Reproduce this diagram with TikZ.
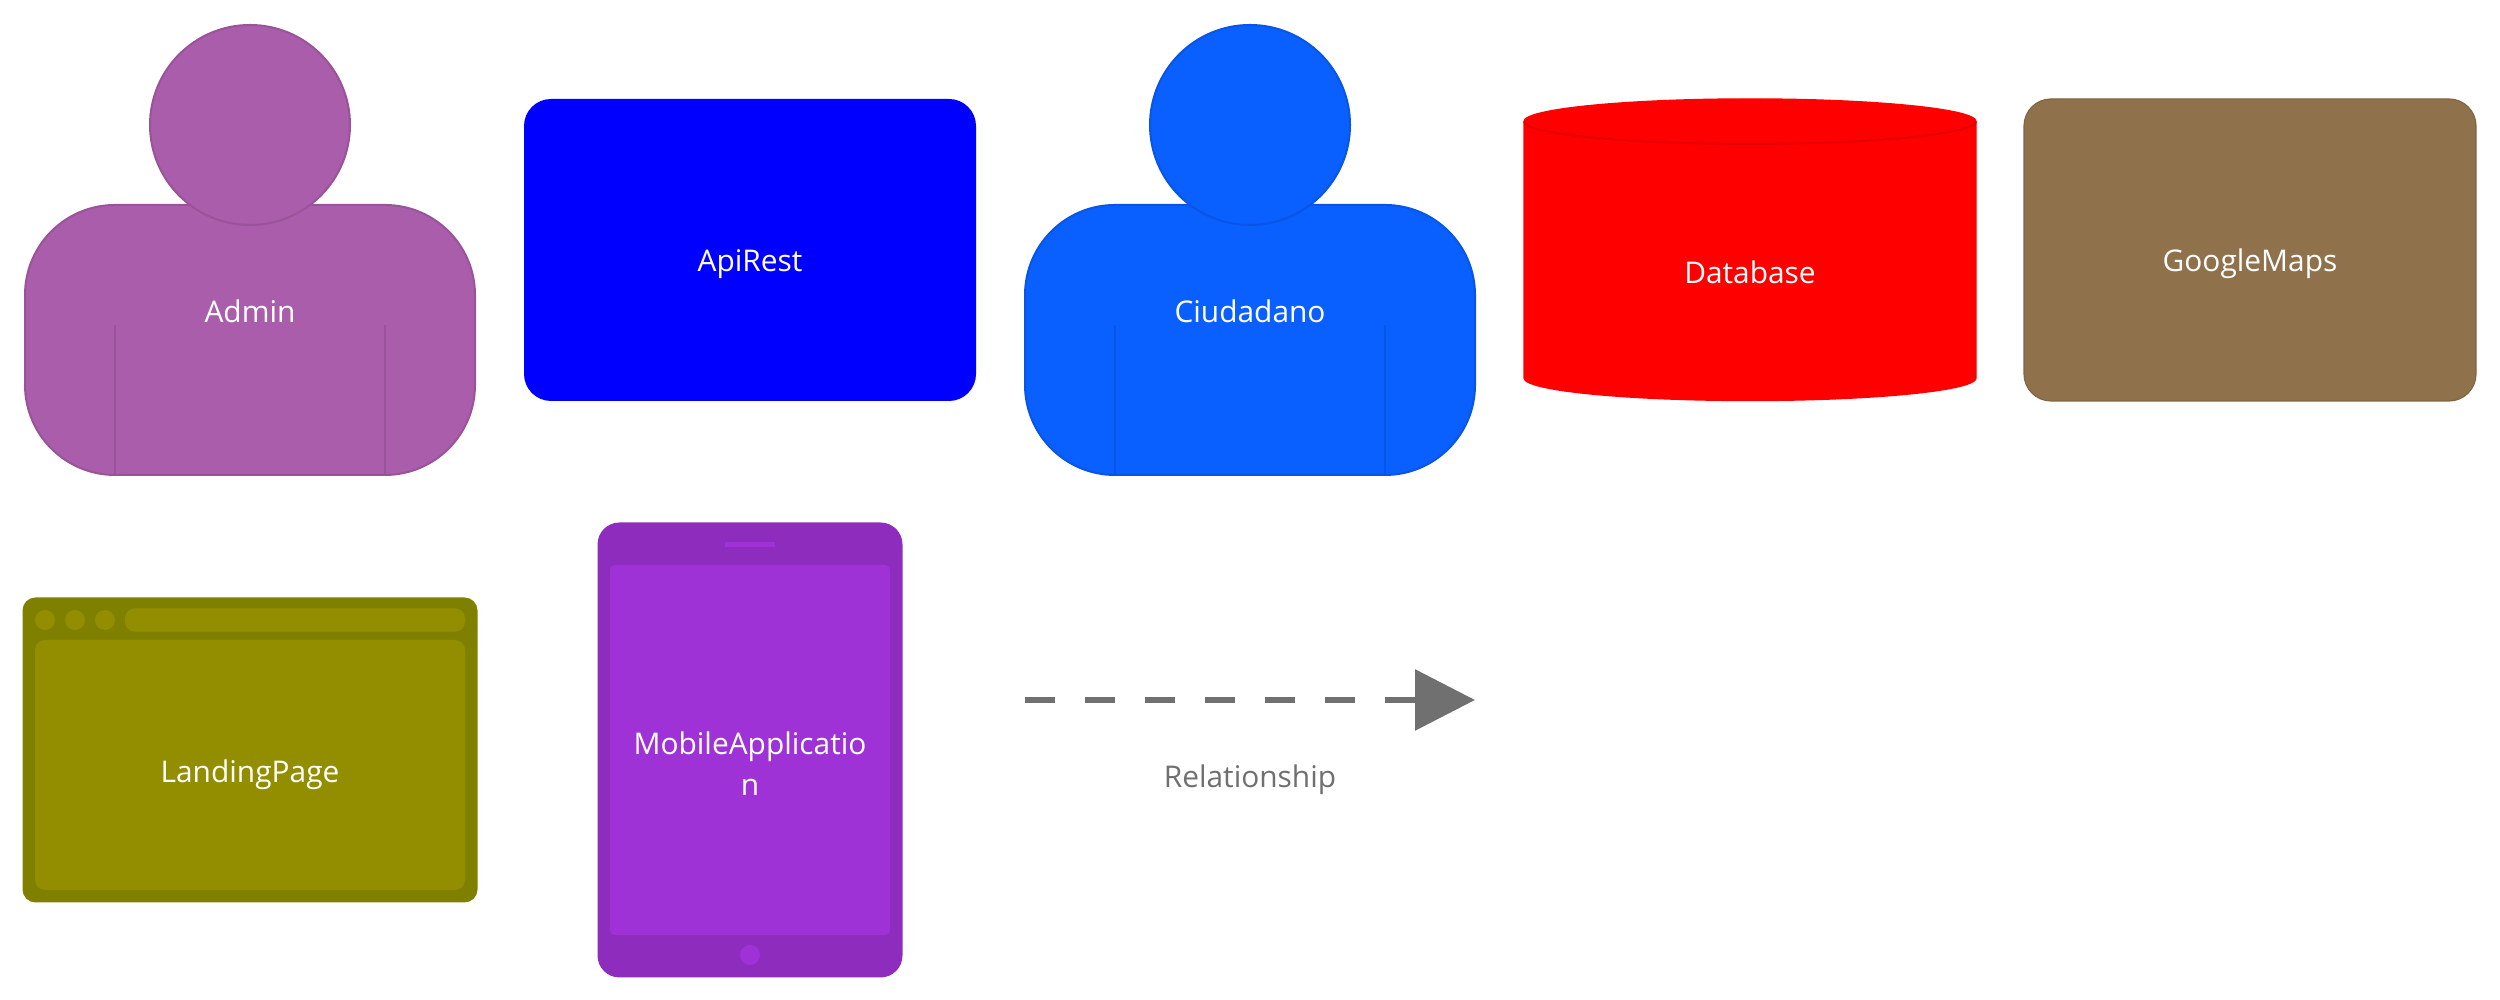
\documentclass[tikz,border=0pt]{standalone}
\usepackage{fontspec}
\setmainfont{Open Sans}
\usepackage{tikz}
\usetikzlibrary{arrows.meta,positioning}
\definecolor{adminfill}{RGB}{170,93,170}
\definecolor{adminline}{RGB}{153,84,153}
\definecolor{citizenfill}{RGB}{10,95,255}
\definecolor{citizenline}{RGB}{9,85,230}
\definecolor{apiblue}{RGB}{0,0,255}
\definecolor{dbred}{RGB}{255,0,0}
\definecolor{dbline}{RGB}{230,0,0}
\definecolor{mapsbrown}{RGB}{143,113,75}
\definecolor{mapsline}{RGB}{129,102,68}
\definecolor{landingdark}{RGB}{128,128,0}
\definecolor{landinglight}{RGB}{147,142,0}
\definecolor{mobiledark}{RGB}{142,45,189}
\definecolor{mobilelight}{RGB}{159,50,214}
\definecolor{relgray}{RGB}{112,112,112}
\tikzstyle{personbody} = [rectangle, minimum width=4.5cm, minimum height=2.7cm, rounded corners=0.9cm, inner sep=0pt, outer sep=0pt, line width=0.02cm]
\tikzstyle{personhead} = [circle, minimum size=2cm, inner sep=0pt, outer sep=0pt, line width=0.02cm]
\tikzstyle{container} = [rectangle, minimum width=4.52cm, minimum height=3.02cm, rounded corners=0.27cm, inner sep=0pt, outer sep=0pt, line width=0.012cm]
\tikzstyle{dot} = [circle, minimum size=0.2cm, inner sep=0pt, outer sep=0pt, fill=landinglight]
\tikzstyle{boxlabel} = [anchor=base, inner sep=0pt, text=white, font=\fontsize{8.5pt}{11.6pt}\selectfont]
\tikzstyle{rellabel} = [boxlabel, text=relgray]
\tikzstyle{relarrow} = [line width=0.06cm, color=relgray, dash pattern=on 0.3cm off 0.3cm, -{Triangle[length=0.6cm,width=0.6cm]}]

\begin{document}
\begin{tikzpicture}
\useasboundingbox (0,0) rectangle (25,10);

% Admin
\node (adminbody) [personbody, fill=adminfill, draw=adminline] at (2.5,6.6) {};
\draw[adminline, line width=0.02cm] ([xshift=0.9cm]adminbody.south west) -- ++(0,1.5);
\draw[adminline, line width=0.02cm] ([xshift=-0.9cm]adminbody.south east) -- ++(0,1.5);
\node (adminhead) [personhead, fill=adminfill, draw=adminline, above=-0.2cm of adminbody] {};
\node (adminlabel) [boxlabel] at (2.5,6.773) {Admin};

% Ciudadano
\node (citizenbody) [personbody, fill=citizenfill, draw=citizenline] at (12.5,6.6) {};
\draw[citizenline, line width=0.02cm] ([xshift=0.9cm]citizenbody.south west) -- ++(0,1.5);
\draw[citizenline, line width=0.02cm] ([xshift=-0.9cm]citizenbody.south east) -- ++(0,1.5);
\node (citizenhead) [personhead, fill=citizenfill, draw=citizenline, above=-0.2cm of citizenbody] {};
\node (citizenlabel) [boxlabel] at (12.5,6.773) {Ciudadano};

% ApiRest
\node (apirest) [container, fill=apiblue] at (7.5,7.5) {};
\node (apilabel) [boxlabel] at (7.5,7.28) {ApiRest};

% Database
\coordinate (dbtop) at (15.24,8.785);
\coordinate (dbbottom) at (19.76,6.22);
\draw[fill=dbred, draw=dbred] (dbtop) arc[start angle=180, end angle=0, x radius=2.26cm, y radius=0.225cm] -- (dbbottom) arc[start angle=0, end angle=-180, x radius=2.26cm, y radius=0.225cm] -- cycle;
\draw[dbline, line width=0.02cm] (dbtop) arc[start angle=180, end angle=360, x radius=2.26cm, y radius=0.225cm];
\node (dblabel) [boxlabel] at (17.5,7.167) {Database};

% GoogleMaps
\node (googlemaps) [container, fill=mapsbrown, draw=mapsline] at (22.5,7.5) {};
\node (mapslabel) [boxlabel] at (22.5,7.28) {GoogleMaps};

% LandingPage
\node (landing) [rectangle, minimum width=4.55cm, minimum height=3.05cm, rounded corners=0.13cm, fill=landingdark] at (2.5,2.5) {};
\node (landingscreen) [rectangle, minimum width=4.3cm, minimum height=2.5cm, rounded corners=0.1cm, fill=landinglight] at (2.5,2.35) {};
\node (dotone) [dot] at (0.45,3.8) {};
\node (dottwo) [dot, right=0.1cm of dotone] {};
\node (dotthree) [dot, right=0.1cm of dottwo] {};
\node (urlbar) [rectangle, minimum width=3.4cm, minimum height=0.2cm, rounded corners=0.1cm, fill=landinglight] at (2.95,3.8) {};
\node (landinglabel) [boxlabel] at (2.5,2.175) {LandingPage};

% MobileApplication
\node (mobile) [rectangle, minimum width=3.05cm, minimum height=4.55cm, rounded corners=0.22cm, fill=mobiledark] at (7.5,2.5) {};
\node (mobilescreen) [rectangle, minimum width=2.8cm, minimum height=3.7cm, rounded corners=0.05cm, fill=mobilelight] at (7.5,2.5) {};
\node (speaker) [rectangle, minimum width=0.5cm, minimum height=0.05cm, inner sep=0pt, fill=mobilelight] at (7.5,4.55) {};
\node (homebutton) [dot, fill=mobilelight] at (7.5,0.45) {};
\node (mobilelabel) [boxlabel, align=center, anchor=center] at (7.5,2.36) {MobileApplicatio\\n};

% Relationship
\coordinate (relstart) at (10.25,3);
\coordinate (relend) at (14.75,3);
\draw[relarrow] (relstart) -- (relend);
\node (relationship) [rellabel] at (12.5,2.125) {Relationship};
\end{tikzpicture}
\end{document}
